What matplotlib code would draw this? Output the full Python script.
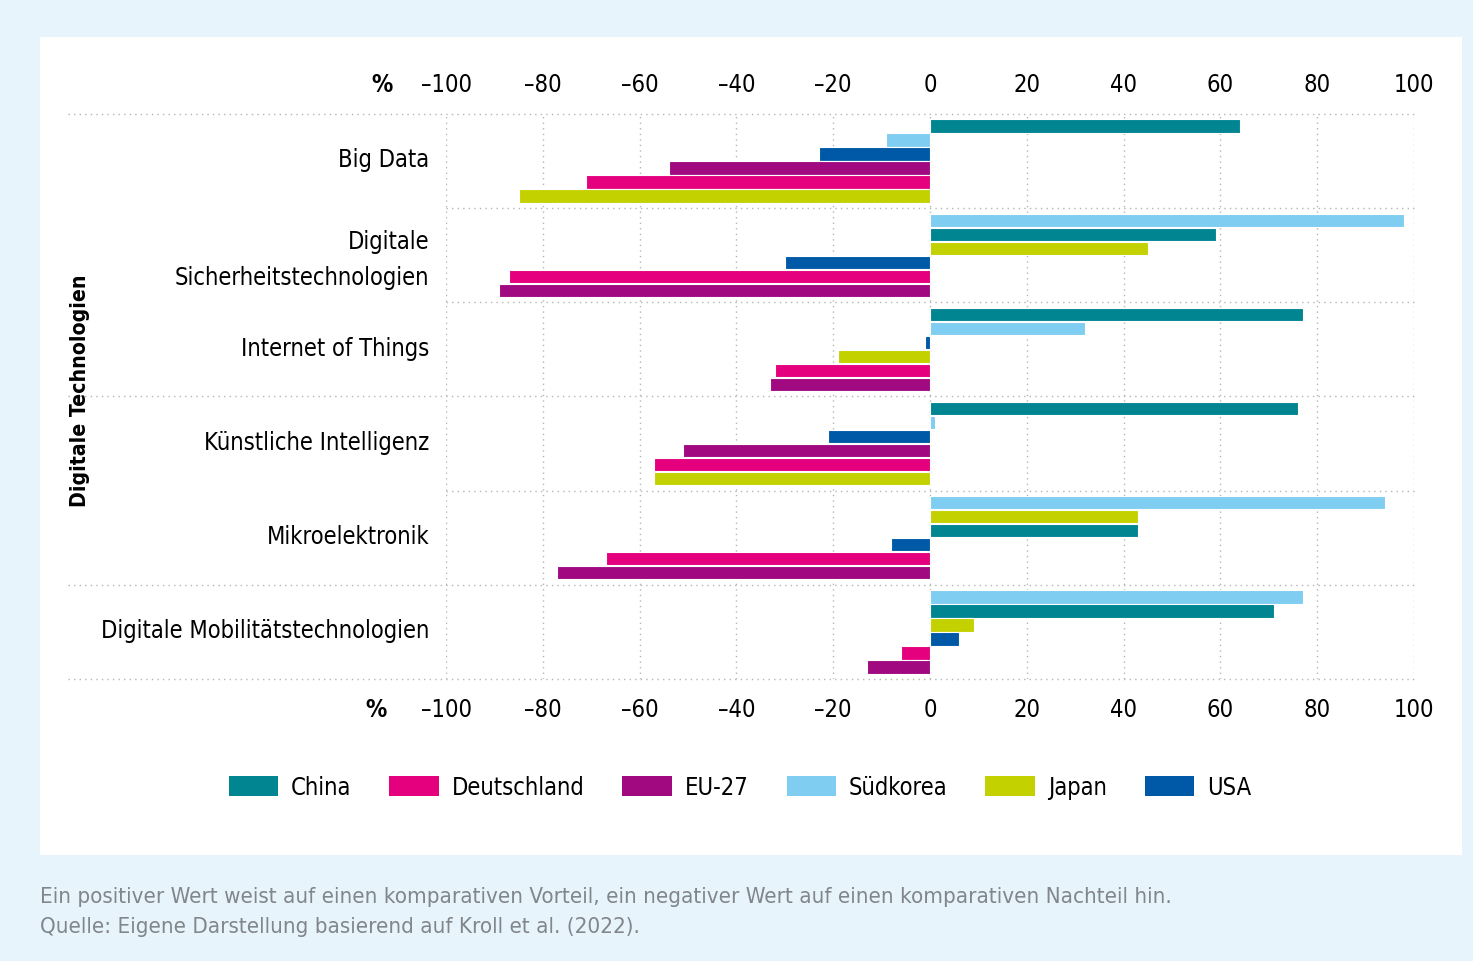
import numpy as np
import matplotlib.pyplot as plt
from matplotlib.patches import Rectangle, Patch

plt.rcParams['font.family'] = ['Liberation Sans Narrow', 'DejaVu Sans']
plt.rcParams['font.stretch'] = 'condensed'

categories = ['Big Data', 'Digitale\nSicherheitstechnologien', 'Internet of Things',
              'Künstliche Intelligenz', 'Mikroelektronik', 'Digitale Mobilitätstechnologien']
countries = ['China', 'Deutschland', 'EU-27', 'Südkorea', 'Japan', 'USA']

china = [64, 59, 77, 76, 43, 71]
deutschland = [-71, -87, -32, -57, -67, -6]
eu27 = [-54, -89, -33, -51, -77, -13]
suedkorea = [-9, 98, 32, 1, 94, 77]
japan = [-85, 45, -19, -57, 43, 9]
usa = [-23, -30, -1, -21, -8, 6]

values = {'China': china, 'Deutschland': deutschland, 'EU-27': eu27,
          'Südkorea': suedkorea, 'Japan': japan, 'USA': usa}
colors = {'China': '#008591', 'Deutschland': '#e5007d', 'EU-27': '#a0097f',
          'Südkorea': '#7fcdf1', 'Japan': '#c3d100', 'USA': '#0059a6'}
# order used when two bars have the same value
tie_order = ['Deutschland', 'Japan', 'China', 'EU-27', 'Südkorea', 'USA']
xticks = [-100, -80, -60, -40, -20, 0, 20, 40, 60, 80, 100]

fig = plt.figure(figsize=(14.73, 9.62), dpi=100)
fig.patch.set_facecolor('#e8f4fb')
fig.patches.append(Rectangle((0.0272, 0.1102), 0.9654, 0.8503, transform=fig.transFigure,
                             facecolor='white', edgecolor='none', zorder=-5))

ax = fig.add_axes([0.3028, 0.2931, 0.6572, 0.5874])
ax.set_facecolor('none')

pitch = 0.1486
for i in range(len(categories)):
    vals = [values[c][i] for c in countries]
    order = sorted(range(len(countries)), key=lambda k: (-vals[k], tie_order.index(countries[k])))
    for j, k in enumerate(order):
        ax.barh(i + 0.5 + (j - 2.5) * pitch, vals[k], height=0.142,
                color=colors[countries[k]], edgecolor='white', linewidth=0.8, zorder=3)

ax.set_xlim(-100, 100)
ax.set_ylim(len(categories), 0)

dot = dict(color='#b5b5b5', lw=1.0, linestyle=(0, (1, 3)))
for x in xticks:
    ax.axvline(x, zorder=1, **dot)
x_left = (68 - 446) / 968
for b in range(len(categories) + 1):
    x0 = x_left if b in (0, 3, 5, 6) else 0
    ax.plot([x0, 1], [b, b], transform=ax.get_yaxis_transform(), clip_on=False, zorder=1, **dot)

for s in ax.spines.values():
    s.set_visible(False)

ax.set_xticks(xticks)
ax.set_xticklabels([str(t).replace('-', '\u2013') if t < 0 else str(t) for t in xticks])
ax.tick_params(axis='x', which='both', length=0, labelsize=17, pad=13,
               top=True, labeltop=True, bottom=True, labelbottom=True)
ax.set_yticks(np.arange(len(categories)) + 0.455)
ax.set_yticklabels(categories, fontsize=17, linespacing=1.6)
ax.tick_params(axis='y', length=0, pad=12)

fig.text(382 / 1473, 1 - 85 / 962, '%', fontsize=17, fontweight='bold', ha='center', va='center')
fig.text(376 / 1473, 1 - 710 / 962, '%', fontsize=17, fontweight='bold', ha='center', va='center')

fig.text(80 / 1473, 1 - 391 / 962, 'Digitale Technologien', fontsize=15.2, fontweight='bold',
         rotation=90, ha='center', va='center')

handles = [Patch(facecolor=colors[c], edgecolor='none', label=c) for c in countries]
fig.legend(handles=handles, loc='center', bbox_to_anchor=(740 / 1473, 1 - 788 / 962), ncol=6,
           frameon=False, fontsize=17, handlelength=2.1, handleheight=0.95,
           handletextpad=0.55, columnspacing=1.6)

footer_color = '#80868b'
fig.text(40 / 1473, 1 - 897 / 962,
         'Ein positiver Wert weist auf einen komparativen Vorteil, ein negativer Wert auf einen komparativen Nachteil hin.',
         fontsize=16, color=footer_color, ha='left', va='center')
fig.text(40 / 1473, 1 - 927 / 962, 'Quelle: Eigene Darstellung basierend auf Kroll et al. (2022).',
         fontsize=16, color=footer_color, ha='left', va='center')

fig.savefig('out.png', dpi=100, facecolor=fig.get_facecolor())
